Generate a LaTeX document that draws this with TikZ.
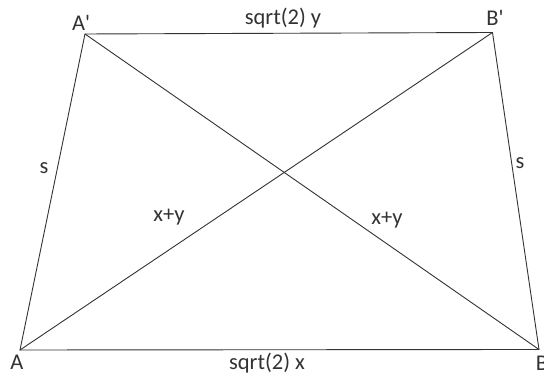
\documentclass[tikz,border=0pt]{standalone}
\usepackage{fontspec}
\setmainfont{Carlito}
\begin{document}
\begin{tikzpicture}[x=1pt,y=1pt,
  edge/.style={draw=black!80, line width=0.9pt},
  lbl/.style={text=black!80, font=\fontsize{22.5}{24}\selectfont, inner sep=0pt}]
\useasboundingbox[fill=white] (0,0) rectangle (544,374);
\coordinate (A) at (20,24);
\coordinate (B) at (539,24.5);
\coordinate (Ap) at (85,340);
\coordinate (Bp) at (492.5,341.5);
\draw[edge] (A) -- (B) -- (Bp) -- (Ap) -- cycle;
\draw[edge] (A) -- (Bp);
\draw[edge] (Ap) -- (B);
\node[lbl] (lA) at (17,12) {A};
\node[lbl] (lB) at (542,11) {B};
\node[lbl] (lAp) at (81,351) {A\textquotesingle};
\node[lbl] (lBp) at (495,356) {B\textquotesingle};
\node[lbl] (top) at (283,356) {sqrt(2) y};
\node[lbl] (bot) at (267,11) {sqrt(2) x};
\node[lbl] (sl) at (44,206) {s};
\node[lbl] (sr) at (520,211) {s};
\node[lbl] (d1) at (169,157) {x+y};
\node[lbl] (d2) at (387,154) {x+y};
\end{tikzpicture}
\end{document}
